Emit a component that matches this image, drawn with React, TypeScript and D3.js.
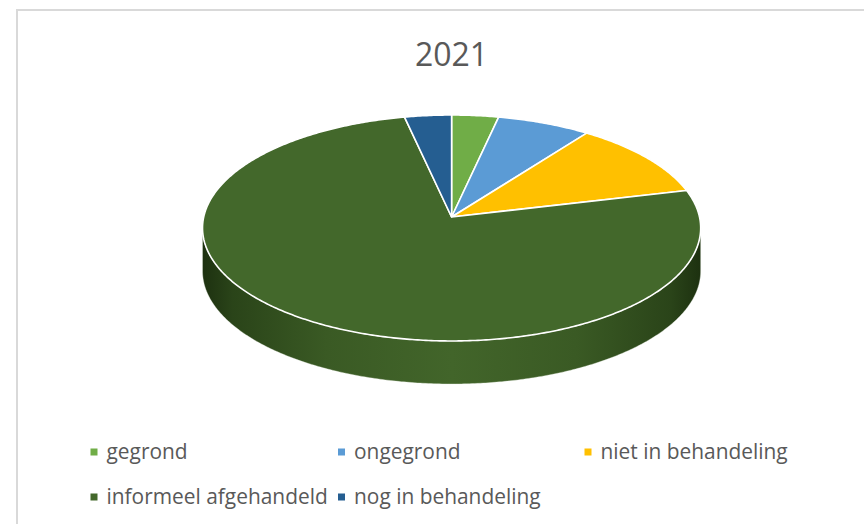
import React from 'react';
import * as d3 from 'd3';

const title = '2021';
const categories = ['gegrond', 'ongegrond', 'niet in behandeling', 'informeel afgehandeld', 'nog in behandeling'];
const values = [3, 6, 10, 68, 3];
const colors = ['#70AD47', '#5B9BD5', '#FFC000', '#43682B', '#255E91'];

const W = 864;
const H = 524;
const cx = 451.6;
const cy = 217;
const A = 247.9;
const B = 111.9;
const K = 0.0973;
const DEPTH = 43;

function proj(theta: number, dy = 0): [number, number] {
  const u = Math.sin(theta);
  const v = -Math.cos(theta);
  const w = 1 - K * v;
  return [cx + (A * u) / w, cy + (B * v) / w + dy];
}

function arcPoints(a0: number, a1: number, dy = 0): [number, number][] {
  const n = Math.max(8, Math.ceil(Math.abs(a1 - a0) / 0.01));
  const pts: [number, number][] = [];
  for (let i = 0; i <= n; i++) pts.push(proj(a0 + ((a1 - a0) * i) / n, dy));
  return pts;
}

const line = d3.line();

export default function App() {
  const pie = d3
    .pie<number>()
    .sort(null)
    .startAngle(0)
    .endAngle(2 * Math.PI)(values);

  const slices = pie.map((d, i) => {
    const pts = arcPoints(d.startAngle, d.endAngle);
    const path = line([[cx, cy], ...pts]) + 'Z';
    return <path key={i} d={path} fill={colors[i]} stroke="#fff" strokeWidth={1.6} strokeLinejoin="round" />;
  });

  const thR = Math.acos(-K);
  const thL = 2 * Math.PI - thR;
  const topFront = arcPoints(thR, thL);
  const botFront = arcPoints(thL, thR, DEPTH);
  const sidePath = line([...topFront, ...botFront]) + 'Z';
  const xL = cx - A / Math.sqrt(1 - K * K);
  const xR = cx + A / Math.sqrt(1 - K * K);

  const legendCols = [90.5, 338, 584.5];
  const legendRows = [452, 497];
  const legendItems = categories.map((c, i) => {
    const col = i < 3 ? i : i - 3;
    const row = i < 3 ? 0 : 1;
    const x = legendCols[col];
    const y = legendRows[row];
    return (
      <g key={c}>
        <rect x={x} y={y - 3.5} width={7} height={7} fill={colors[i]} />
        <text x={x + 16} y={y + 7.2} fontSize={20.9} fill="#595959" fontFamily="'Open Sans', sans-serif">
          {c}
        </text>
      </g>
    );
  });

  return (
    <svg width={W} height={H} style={{ position: 'absolute', left: 0, top: 0 }}>
      <defs>
        <linearGradient id="side" gradientUnits="userSpaceOnUse" x1={xL} x2={xR} y1={0} y2={0}>
          <stop offset="0%" stopColor="#1d3110" />
          <stop offset="6%" stopColor="#2a4419" />
          <stop offset="25%" stopColor="#3a5a24" />
          <stop offset="50%" stopColor="#42652a" />
          <stop offset="75%" stopColor="#3a5a24" />
          <stop offset="94%" stopColor="#2a4419" />
          <stop offset="100%" stopColor="#1d3110" />
        </linearGradient>
      </defs>
      <rect x={0} y={0} width={W} height={H} fill="#fff" />
      <rect x={17} y={10} width={W + 20} height={H + 20} fill="none" stroke="#d9d9d9" strokeWidth={2} />
      <text x={451.5} y={66} textAnchor="middle" fontSize={32} fill="#595959" fontFamily="'Open Sans', sans-serif">
        {title}
      </text>
      <path d={sidePath} fill="url(#side)" stroke="#e8efe2" strokeWidth={0.6} strokeOpacity={0.6} />
      {slices}
      {legendItems}
    </svg>
  );
}
